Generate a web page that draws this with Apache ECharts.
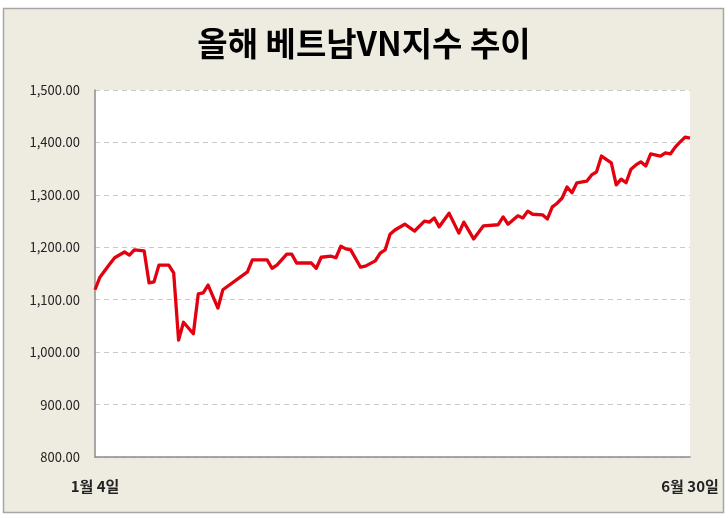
<!DOCTYPE html>
<html>
<head>
<meta charset="UTF-8">
<title>올해 베트남VN지수 추이</title>
<script type="text/javascript" src="https://cdn.jsdelivr.net/npm/echarts@6/dist/echarts.min.js"></script>
<style>
html, body { margin:0; padding:0; background:#fff; }
</style>
</head>
<body>
<div id="main" style="width:728px;height:518px"></div>
<script type="text/javascript">
// 거래일 순번 (1월 4일 = 0, 6월 30일 = 121)
var days = [0, 1, 3, 4, 6, 7, 8, 9, 10, 11, 12, 13, 15, 16, 17, 18, 20, 21, 22, 23, 25, 26,
	31, 32, 35, 36, 37, 39, 40, 41, 44, 45, 46, 48, 49, 50, 51, 52, 54, 55, 57, 58, 59, 60,
	61, 63, 65, 67, 68, 69, 70, 72, 74, 75, 77, 79, 82, 83, 84, 86, 87, 88, 89, 91, 92, 93,
	94, 95, 96, 97, 98, 100, 101, 102, 103, 105, 106, 107, 108, 109, 110, 111, 112, 113,
	115, 116, 117, 118, 119, 120, 121];
// VN지수 종가
var vnIndex = [1119, 1143, 1168, 1180, 1191, 1185, 1195, 1194, 1193, 1132, 1134, 1166, 1166, 1151, 1023, 1057, 1035, 1111, 1113, 1128, 1084, 1119,
	1153, 1176, 1176, 1160, 1166, 1187, 1187, 1170, 1170, 1160, 1181, 1183, 1180, 1202, 1197, 1195, 1162, 1164, 1174, 1189, 1195, 1225,
	1233, 1244, 1231, 1250, 1248, 1256, 1239, 1265, 1227, 1248, 1216, 1241, 1243, 1258, 1244, 1260, 1256, 1269, 1263, 1262, 1254, 1277,
	1284, 1294, 1315, 1304, 1323, 1326, 1338, 1344, 1374, 1361, 1319, 1330, 1323, 1349, 1357, 1363, 1355, 1378,
	1374, 1380, 1378, 1391, 1401, 1410, 1408];
var firstLabel = '1월 4일';
var lastLabel = '6월 30일';
var lastDay = 121;

var seriesData = days.map(function (d, i) { return [d, vnIndex[i]]; });

function fmt(v) {
	var s = v.toFixed(2);
	var p = s.split('.');
	return p[0].replace(/\B(?=(\d{3})+(?!\d))/g, ',') + '.' + p[1];
}

var myEcharts = echarts.init(document.getElementById('main'));
var font = '"Noto Sans CJK KR", "Noto Sans", sans-serif';

var option = {
	backgroundColor: '#ffffff',
	animation: false,
	textStyle: { fontFamily: font },
	graphic: [{
		type: 'rect',
		z: -10,
		shape: { x: 3.5, y: 8.5, width: 720, height: 504 },
		style: { fill: '#EEECE1', stroke: '#A6A6A6', lineWidth: 1.5 }
	}],
	title: {
		text: '올해 베트남VN지수 추이',
		left: 'center',
		top: 22,
		textStyle: { fontFamily: font, fontSize: 33, fontWeight: 'bold', color: '#000' }
	},
	grid: {
		left: 95, right: 38, top: 90, bottom: 61,
		show: true,
		backgroundColor: '#ffffff',
		borderWidth: 0
	},
	xAxis: {
		type: 'value',
		min: 0,
		max: lastDay,
		interval: lastDay,
		axisLine: { show: true, onZero: false, lineStyle: { color: '#8C8C8C', width: 1.5 } },
		axisTick: { show: false },
		splitLine: { show: false },
		axisLabel: {
			margin: 22,
			fontSize: 15,
			fontWeight: 'bold',
			color: '#222',
			formatter: function (v) {
				if (v === 0) return firstLabel;
				if (v === lastDay) return lastLabel;
				return '';
			}
		}
	},
	yAxis: {
		type: 'value',
		min: 800,
		max: 1500,
		interval: 100,
		axisLine: { show: true, lineStyle: { color: '#8C8C8C', width: 1.5 } },
		axisTick: { show: false },
		splitLine: { show: true, lineStyle: { color: '#C8C8C8', type: [5, 4], width: 1 } },
		axisLabel: {
			margin: 15,
			fontSize: 13,
			color: '#222',
			formatter: function (v) { return fmt(v); }
		}
	},
	series: [{
		type: 'line',
		data: seriesData,
		symbol: 'none',
		lineStyle: { color: '#E3000F', width: 3.3, join: 'round' },
		itemStyle: { color: '#E3000F' }
	}]
};

myEcharts.setOption(option);
</script>
</body>
</html>
